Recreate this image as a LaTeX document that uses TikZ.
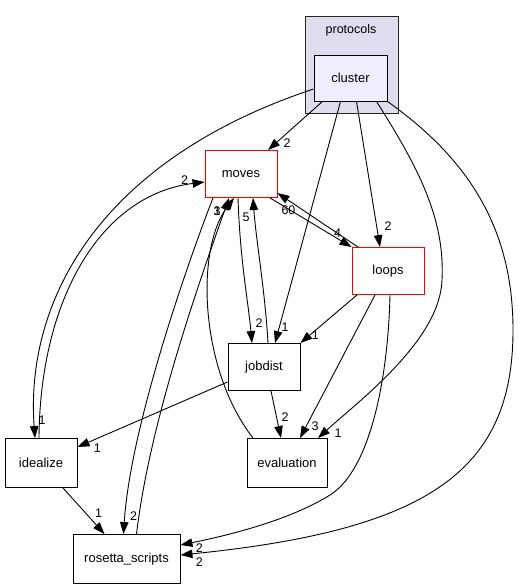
\documentclass[tikz,border=0pt]{standalone}
\usepackage{fontspec}
\setmainfont{Liberation Sans}
\usetikzlibrary{arrows.meta}
\definecolor{protofill}{HTML}{DDDDEE}
\definecolor{clusterfill}{HTML}{EEEEFF}

\begin{document}
\begin{tikzpicture}[x=1pt,y=-1pt,
  dirbox/.style={draw=black, fill=white, line width=0.9pt, minimum width=72pt, minimum height=47pt, inner sep=0pt, font=\fontsize{13}{15}\selectfont},
  hotbox/.style={dirbox, draw=red},
  dep/.style={line width=0.9pt, -{Triangle[length=12pt,width=8.5pt]}},
  lbl/.style={inner sep=0pt, font=\fontsize{12.5}{14}\selectfont}]
\useasboundingbox (0,0) rectangle (517,588);
\filldraw[fill=protofill, draw=black!85, line width=0.9pt] (305,16) rectangle (398,113);
\node[lbl] (protocols) at (351,30) {protocols};
\node[dirbox, fill=clusterfill, minimum width=73pt, minimum height=46pt] (cluster) at (350.5,78) {cluster};
\node[hotbox] (moves) at (241,174) {moves};
\node[hotbox] (loops) at (388,271) {loops};
\node[dirbox] (jobdist) at (264,367) {jobdist};
\node[dirbox, minimum height=49pt] (idealize) at (41,463) {idealize};
\node[dirbox, minimum width=80pt, minimum height=49pt] (evaluation) at (287,463) {evaluation};
\node[dirbox, minimum width=107pt, minimum height=49pt] (rosetta) at (126.5,559) {rosetta\_scripts};

\draw[dep] ([xshift=-28pt]cluster.south) -- ([xshift=27pt]moves.north) node[lbl,at end,shift={(19,-7)}] {2};
\draw[dep] ([yshift=-11pt]cluster.west) .. controls (100,160) and (25,300) .. ([xshift=-6pt]idealize.north) node[lbl,at end,shift={(7,-18)}] {1};
\draw[dep] ([xshift=-10pt]cluster.south) -- ([xshift=11pt]jobdist.north) node[lbl,at end,shift={(10,-16)}] {1};
\draw[dep] ([xshift=6pt]cluster.south) -- ([xshift=-8pt]loops.north) node[lbl,at end,shift={(8,-21)}] {2};
\draw[dep] ([xshift=26pt]cluster.south) .. controls (420,170) and (445,220) .. (442,280) .. controls (440,340) and (360,400) .. ([xshift=31pt]evaluation.north) node[lbl,at end,shift={(20,-5)}] {1};
\draw[dep] (cluster.south east) .. controls (470,160) and (513,230) .. (513,330) .. controls (513,470) and (430,530) .. ([yshift=4pt]rosetta.east) node[lbl,at end,shift={(19,7)}] {2};

\draw[dep] ([xshift=29pt]moves.south) -- (loops.north west) node[lbl,at end,shift={(-14,-14)}] {4};
\draw[dep] ([xshift=-30pt]loops.north) -- ([yshift=-19pt]moves.east) node[lbl,at end,shift={(11,17)}] {60};
\draw[dep] ([xshift=-3pt]moves.south) .. controls (240,260) and (248,300) .. ([xshift=-12pt]jobdist.north) node[lbl,at end,shift={(7,-20)}] {2};
\draw[dep] ([xshift=4pt]jobdist.north) .. controls (265,290) and (256,240) .. ([xshift=12pt]moves.south) node[lbl,at end,shift={(-7,19)}] {5};
\draw[dep] ([xshift=-28pt]moves.south) .. controls (185,270) and (130,430) .. ([xshift=-3pt]rosetta.north) node[lbl,at end,shift={(10,-18)}] {2};
\draw[dep] ([xshift=10pt]rosetta.north) .. controls (150,420) and (200,280) .. ([xshift=-12pt]moves.south) node[lbl,at end,shift={(-12,13)}] {1};
\draw[dep] ([xshift=-34pt]evaluation.north) .. controls (200,370) and (195,250) .. ([xshift=-7pt]moves.south) node[lbl,at end,shift={(-17,13)}] {3};
\draw[dep] ([xshift=-2pt]idealize.north) .. controls (40,300) and (100,195) .. ([yshift=-8pt]moves.west) node[lbl,at end,shift={(-20,-2)}] {2};

\draw[dep] ([yshift=-15pt]jobdist.west) -- ([yshift=16pt]idealize.east) node[lbl,at end,shift={(20,1)}] {1};
\draw[dep] ([xshift=7pt]jobdist.south) -- ([xshift=-6pt]evaluation.north) node[lbl,at end,shift={(4,-21)}] {2};
\draw[dep] ([xshift=-31pt]loops.south) -- (jobdist.north east) node[lbl,at end,shift={(15,-8)}] {1};
\draw[dep] ([xshift=-13pt]loops.south) -- ([xshift=13pt]evaluation.north) node[lbl,at end,shift={(15,-12)}] {3};
\draw[dep] ([xshift=2pt]loops.south) .. controls (388,380) and (370,470) .. (330,495) .. controls (290,520) and (230,535) .. ([yshift=14pt]rosetta.east) node[lbl,at end,shift={(19,3)}] {2};
\draw[dep] ([xshift=22pt]idealize.south) -- ([xshift=-22pt]rosetta.north) node[lbl,at end,shift={(-6,-21)}] {1};
\end{tikzpicture}
\end{document}
